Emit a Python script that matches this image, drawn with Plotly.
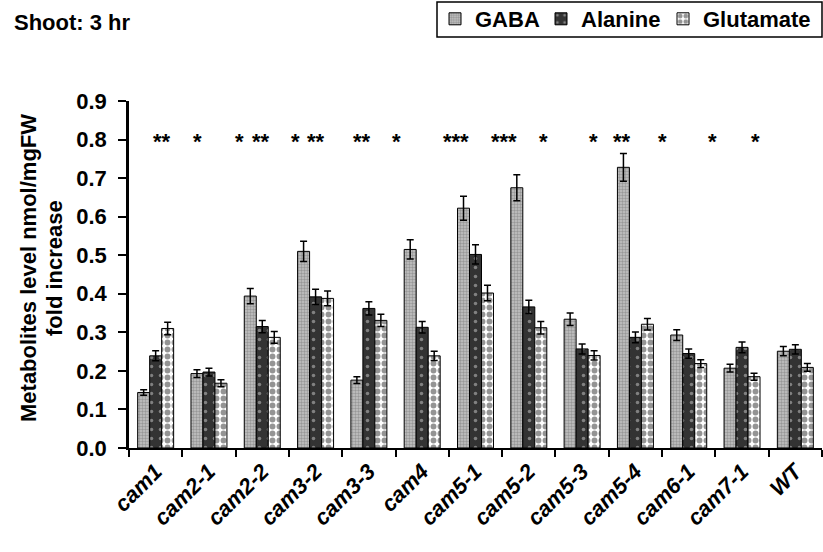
import plotly.graph_objects as go

categories = ["cam1", "cam2-1", "cam2-2", "cam3-2", "cam3-3", "cam4", "cam5-1",
              "cam5-2", "cam5-3", "cam5-4", "cam6-1", "cam7-1", "WT"]
gaba = [0.144, 0.193, 0.394, 0.510, 0.176, 0.515, 0.622, 0.675, 0.334, 0.728, 0.293, 0.207, 0.251]
gaba_err = [0.007, 0.010, 0.020, 0.026, 0.009, 0.025, 0.031, 0.034, 0.016, 0.036, 0.014, 0.010, 0.012]
alanine = [0.239, 0.197, 0.315, 0.392, 0.362, 0.313, 0.502, 0.366, 0.257, 0.287, 0.245, 0.261, 0.256]
alanine_err = [0.013, 0.010, 0.016, 0.020, 0.017, 0.015, 0.025, 0.017, 0.013, 0.014, 0.012, 0.014, 0.012]
glutamate = [0.310, 0.168, 0.287, 0.388, 0.331, 0.239, 0.402, 0.312, 0.240, 0.321, 0.219, 0.185, 0.209]
glutamate_err = [0.016, 0.009, 0.015, 0.019, 0.016, 0.012, 0.020, 0.016, 0.012, 0.015, 0.010, 0.009, 0.010]

star_labels = ["**", "*", "*", "**", "*", "**", "**", "*", "***", "***", "*", "*", "**", "*", "*", "*"]
star_pos = [0.12, 0.78, 1.57, 1.98, 2.62, 3.01, 3.88, 4.51, 5.64, 6.54, 7.27, 8.21, 8.74, 9.51, 10.45, 11.25]
star_level = 0.795

y_ticks = [0.0, 0.1, 0.2, 0.3, 0.4, 0.5, 0.6, 0.7, 0.8, 0.9]
y_tick_text = ["0.0", "0.1", "0.2", "0.3", "0.4", "0.5", "0.6", "0.7", "0.8", "0.9"]

FONT = "Liberation Sans, Arial, sans-serif"

# plot area in pixels (for converting paper positions)
L, R, T, B = 129, 822, 101, 448
W_PLOT, H_PLOT = R - L, B - T
def px_x(p):
    return (p - L) / W_PLOT
def px_y(p):
    return (B - p) / H_PLOT

series = [
    ("GABA", gaba, gaba_err, dict(shape=".", bgcolor="#c4c4c4", fgcolor="#6a6a6a", size=3, solidity=0.5), "legend"),
    ("Alanine", alanine, alanine_err, dict(shape=".", bgcolor="#333333", fgcolor="#d0d0d0", size=9, solidity=0.12), "legend2"),
    ("Glutamate", glutamate, glutamate_err, dict(shape=".", bgcolor="#ffffff", fgcolor="#2a2a2a", size=7, solidity=0.55), "legend3"),
]

fig = go.Figure()
for name, vals, errs, pat, lg in series:
    fig.add_trace(go.Bar(
        name=name, x=categories, y=vals, legend=lg,
        marker=dict(color=pat["bgcolor"], pattern=pat, line=dict(color="black", width=1)),
        error_y=dict(type="data", array=errs, visible=True, color="black", thickness=1.5, width=3.5),
    ))

for lab, pos in zip(star_labels, star_pos):
    fig.add_annotation(x=pos, y=star_level, xref="x", yref="y", text=lab, showarrow=False,
                       font=dict(family=FONT, size=22, color="black", weight="bold"),
                       xanchor="center", yanchor="middle")

fig.add_annotation(x=px_x(12), y=px_y(22), xref="paper", yref="paper", xanchor="left", yanchor="middle",
                   text="Shoot: 3 hr", showarrow=False,
                   font=dict(family=FONT, size=22, color="black", weight="bold"))

fig.add_annotation(x=px_x(28), y=px_y(268), xref="paper", yref="paper", xanchor="center", yanchor="middle",
                   text="Metabolites level nmol/mgFW", textangle=-90, showarrow=False,
                   font=dict(family=FONT, size=22, color="black", weight="bold"))
fig.add_annotation(x=px_x(54), y=px_y(268), xref="paper", yref="paper", xanchor="center", yanchor="middle",
                   text="fold increase", textangle=-90, showarrow=False,
                   font=dict(family=FONT, size=22, color="black", weight="bold"))

# legend frame
fig.add_shape(type="rect", xref="paper", yref="paper", x0=px_x(437), x1=px_x(822), y0=px_y(37), y1=px_y(2),
              line=dict(color="black", width=1.5), fillcolor="white", layer="below")

leg_font = dict(family=FONT, size=22, color="black", weight="bold")
leg_common = dict(orientation="h", xanchor="left", yanchor="middle", y=px_y(19),
                  bgcolor="rgba(0,0,0,0)", borderwidth=0, font=leg_font, itemwidth=30)

fig.update_layout(
    width=823, height=552,
    margin=dict(l=L, r=823 - R, t=T, b=552 - B, autoexpand=False),
    paper_bgcolor="white", plot_bgcolor="white",
    barmode="group", bargap=0.325, bargroupgap=0,
    showlegend=True,
    legend=dict(x=px_x(435), **leg_common),
    legend2=dict(x=px_x(541), **leg_common),
    legend3=dict(x=px_x(663), **leg_common),
    xaxis=dict(showline=True, linecolor="black", linewidth=2, ticks="outside", tickson="boundaries",
               ticklen=7, tickwidth=2, tickcolor="black", tickangle=-45,
               tickfont=dict(family=FONT, size=22, color="black", weight="bold", style="italic"),
               showgrid=False, zeroline=False),
    yaxis=dict(range=[0, 0.9], tickvals=y_ticks, ticktext=y_tick_text, showline=True, linecolor="black",
               linewidth=2.5, ticks="outside", ticklen=8, tickwidth=2, tickcolor="black",
               ticklabelstandoff=7,
               tickfont=dict(family=FONT, size=22, color="black", weight="bold"),
               showgrid=False, zeroline=False),
)

fig.write_html("out.html", config={"displayModeBar": False},
               post_script="document.body.style.margin='0';document.body.style.overflow='hidden';")
